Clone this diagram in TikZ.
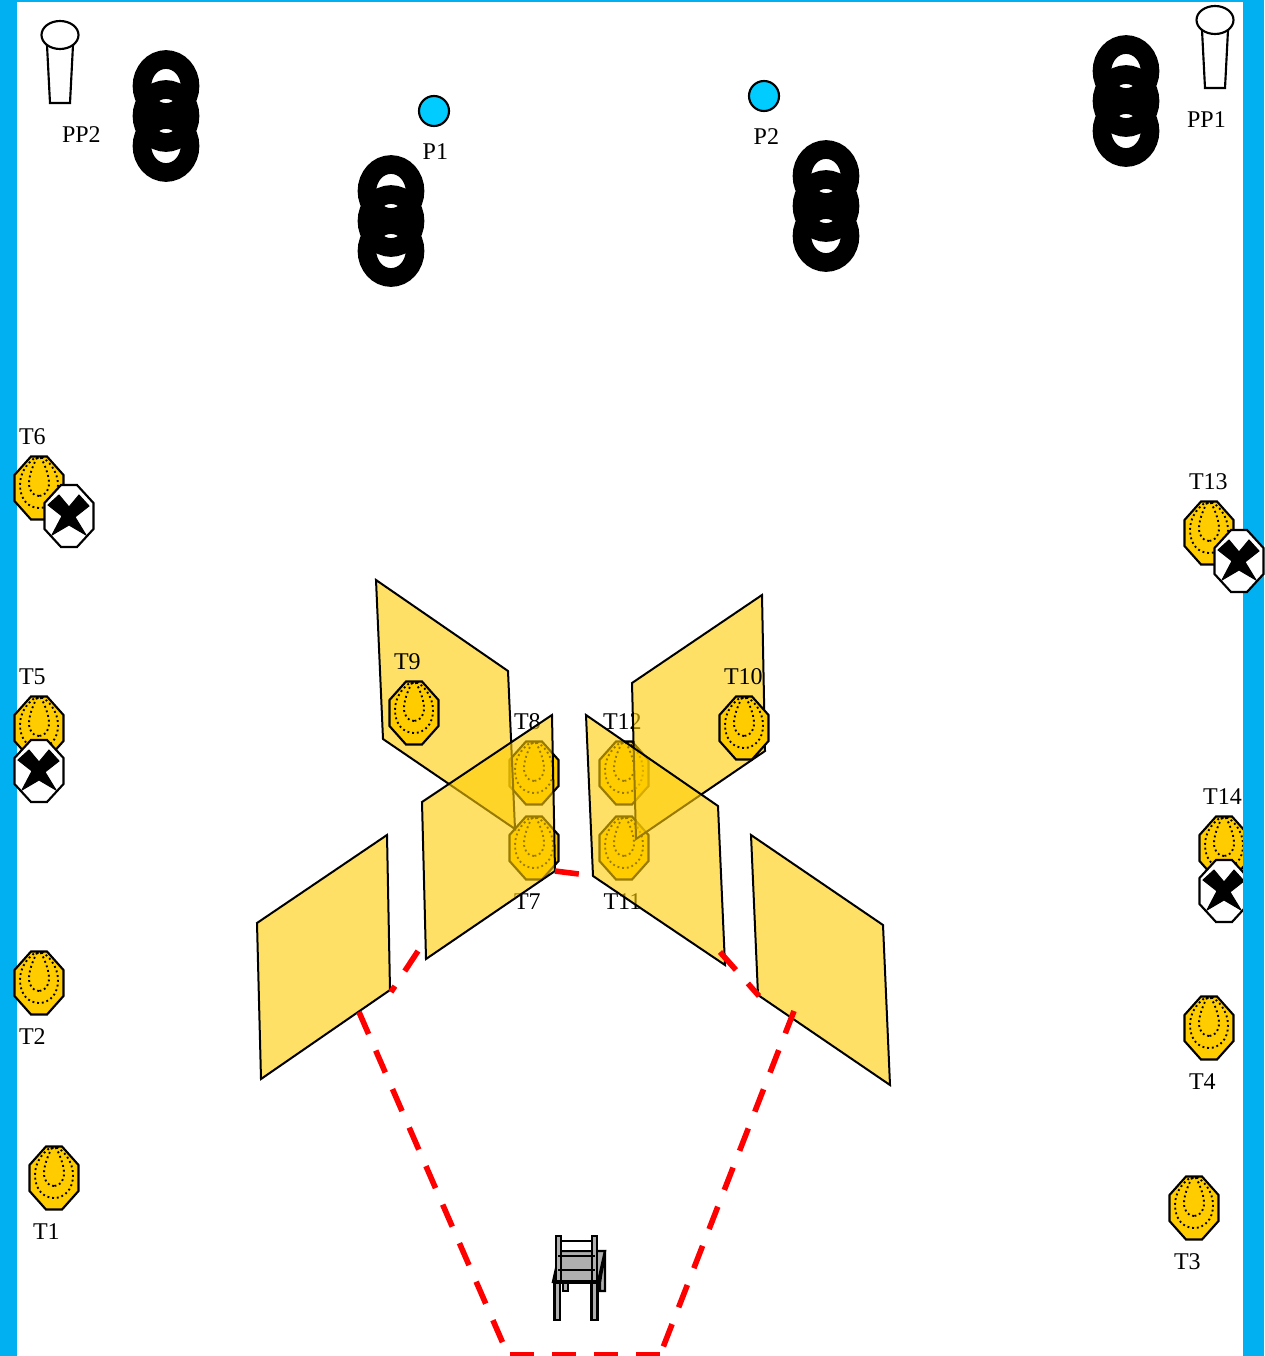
\documentclass[tikz,border=0pt]{standalone}
\usepackage{fontspec}
\setmainfont{Liberation Serif}
\definecolor{bandblue}{RGB}{0,176,240}
\definecolor{pointblue}{RGB}{0,204,255}
\definecolor{targetgold}{RGB}{255,204,0}
\definecolor{chairgrey}{RGB}{175,175,175}
\tikzset{
  outline/.style={draw=black,line width=1.6pt,line join=miter},
  chairline/.style={draw=black,line width=1.8pt,fill=chairgrey},
  dots/.style={draw=black,line width=1.4pt,dash pattern=on 1.4pt off 2.2pt},
  panel/.style={draw=black,line width=1.5pt,fill=targetgold,fill opacity=0.6},
  reddash/.style={draw=red,line width=4.2pt,dash pattern=on 18pt off 13.5pt},
  tag/.style={font=\fontsize{18}{20}\selectfont,inner sep=0pt,xshift=0.3pt,yshift=-0.7pt},
  target/.pic={
    \draw[outline,fill=targetgold] (-8,-31.5) -- (8,-31.5) -- (24.5,-13) -- (24.5,13)
      -- (8,31.5) -- (-8,31.5) -- (-24.5,13) -- (-24.5,-13) -- cycle;
    \draw[dots] (0,20) .. controls (-10,20) and (-19,12) .. (-19,-3)
      .. controls (-19,-18) and (-8,-28) .. (-4,-30) -- (4,-30)
      .. controls (8,-28) and (19,-18) .. (19,-3)
      .. controls (19,12) and (10,20) .. (0,20);
    \draw[dots] (0,8) .. controls (-6,8) and (-10,3) .. (-10,-5)
      .. controls (-10,-14) and (-4,-27) .. (-2,-30) -- (2,-30)
      .. controls (4,-27) and (10,-14) .. (10,-5)
      .. controls (10,3) and (6,8) .. (0,8);
  },
  crossed/.pic={
    \draw[outline,fill=white] (-8,-31) -- (8,-31) -- (24.5,-13) -- (24.5,13)
      -- (8,31) -- (-8,31) -- (-24.5,13) -- (-24.5,-13) -- cycle;
    \filldraw[black,line width=0.75pt] (-21,-11) -- (-10,-21) -- (0,-9) -- (10,-21) -- (20,-10)
      -- (6,1) -- (17,19) -- (0,9) -- (-17,19) -- (-7,0) -- cycle;
  },
  tyres/.pic={
    \foreach \dy in {-30,0,30}
      {\draw[black,line width=14pt] (0,\dy) ellipse (24 and 26.5);}
  },
  cone/.pic={
    \draw[outline,fill=white] (-13,10) -- (-10,68) -- (10,68) -- (13,10) -- cycle;
    \draw[outline,fill=white] (0,0) ellipse (18.5 and 14);
  }
}
\begin{document}
\begin{tikzpicture}[x=0.75pt,y=-0.75pt]
 \useasboundingbox (0,0) rectangle (1264,1356);
 % the one target that sits behind the right band
 \pic at (1224,848) {target};
 \pic at (1224,891) {crossed};
 \fill[bandblue] (0,0) rectangle (17,1356);
 \fill[bandblue] (1243,0) rectangle (1264,1356);
 \fill[bandblue] (0,0) rectangle (1264,2);
 % targets and labels under the panels
 \foreach \x/\y in {534/773,534/848,624/773,624/848}
   {\pic at (\x,\y) {target};}
 \foreach \x/\y/\lab in {527/721/T8,527/901/T7,622/721/T12,622/901/T11}
   {\node[tag] (lab\lab) at (\x,\y) {\lab};}
 % panels
 \draw[panel] (376,580) -- (508,671) -- (515,829) -- (383,739) -- cycle;
 \draw[panel] (632,683) -- (762,595) -- (765,751) -- (636,839) -- cycle;
 \draw[panel] (552,715) -- (555,871) -- (426,959) -- (422,802) -- cycle;
 \draw[panel] (586,715) -- (718,806) -- (725,965) -- (593,876) -- cycle;
 \draw[panel] (387,835) -- (390,990) -- (261,1079) -- (257,923) -- cycle;
 \draw[panel] (751,835) -- (883,925) -- (890,1085) -- (758,995) -- cycle;
 % walking lane
 \draw[reddash] (359,1012) -- (505,1348);
 \draw[reddash] (510,1355) -- (660,1355);
 \draw[reddash] (794,1011) -- (662,1350);
 \draw[reddash] (418,951) -- (391,992);
 \draw[reddash] (555,871) -- (579,874);
 \draw[reddash] (720,952) -- (759,996);
 % remaining targets
 \foreach \x/\y in {39/488,39/728,39/983,54/1178,1209/533,1209/1028,1194/1208,414/713,744/728}
   {\pic at (\x,\y) {target};}
 \foreach \x/\y in {69/516,39/771,1239/561}
   {\pic at (\x,\y) {crossed};}
 \foreach \x/\y/\lab in {32/436/T6,32/676/T5,32/1036/T2,46/1231/T1,1208/481/T13,1222/796/T14,1202/1081/T4,1187/1261/T3,407/661/T9,743/676/T10}
   {\node[tag] (lab\lab) at (\x,\y) {\lab};}
 % tyres, cones, points
 \foreach \x/\y in {166/116,391/221,826/206,1126/101}
   {\pic at (\x,\y) {tyres};}
 \pic at (60,35) {cone};
 \pic at (1215,20) {cone};
 \node[tag] (labPP2) at (81,134) {PP2};
 \node[tag] (labPP1) at (1206,119) {PP1};
 \foreach \x/\y in {434/111,764/96}
   {\draw[outline,fill=pointblue] (\x,\y) circle (15);}
 \node[tag] (labP1) at (435,151) {P1};
 \node[tag] (labP2) at (766,136) {P2};
 % chair
 \draw[chairline] (600,1282) -- (605,1251) -- (605,1291) -- (600,1291) -- cycle;
 \draw[chairline] (563,1282) rectangle (568,1291);
 \draw[chairline] (560,1251) -- (605,1251) -- (598,1282) -- (553,1282) -- cycle;
 \draw[chairline,fill=white] (558,1241) rectangle (595,1251);
 \draw[chairline] (554.5,1282) rectangle (560,1320);
 \draw[chairline] (591.5,1282) rectangle (597.5,1320);
 \draw[chairline] (556,1236) rectangle (561,1282);
 \draw[chairline] (592,1236) rectangle (597,1282);
 \foreach \y in {1256,1270}
   {\draw[chairline] (558,\y) -- (595,\y);}
 \draw[chairline,line width=3pt] (553,1282) -- (598,1282);
\end{tikzpicture}
\end{document}
